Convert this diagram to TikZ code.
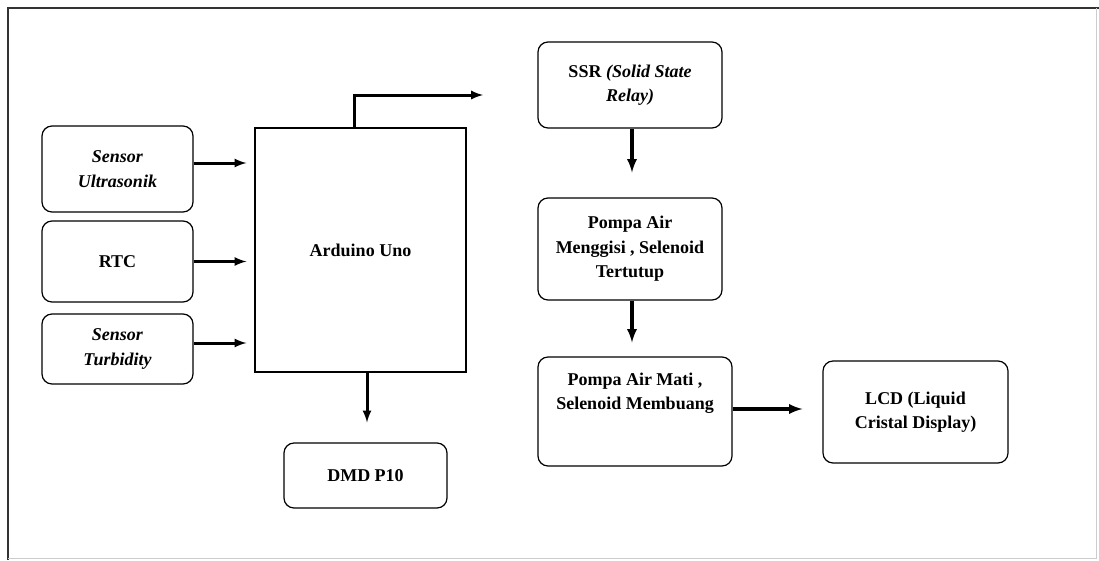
\documentclass[tikz,border=0pt]{standalone}
\usepackage{fontspec}
\setmainfont{Liberation Serif}
\usetikzlibrary{positioning,calc}
\tikzstyle{block}=[draw, line width=1.2pt, rounded corners=10pt, align=center, inner sep=0pt, font=\bfseries\fontsize{18}{24.5}\selectfont]
\tikzstyle{board}=[draw, line width=1.2pt, align=center, inner sep=0pt, font=\bfseries\fontsize{18}{24.5}\selectfont]
\tikzset{flow/.style={-latex, line width=3pt}}
\tikzset{flowthick/.style={-latex, line width=3.5pt}}

\begin{document}
\begin{tikzpicture}[x=1pt,y=-1pt]
  \useasboundingbox (0,0) rectangle (1099,560);
  %% frame
  \draw[line width=1.6pt, black!80] (8,560) -- (8,8) -- (1099,8);
  \draw[line width=0.6pt, black!20] (1096,8) -- (1096,558) -- (8,558);

  %% inputs
  \draw (117.5,169) node[block,minimum width=151pt,minimum height=86pt] (ultra) {\textit{Sensor}\\\textit{Ultrasonik}};
  \draw (117.5,261.5) node[block,minimum width=151pt,minimum height=81pt] (rtc) {RTC};
  \draw (117.5,349) node[block,minimum width=151pt,minimum height=70pt] (turb) {\textit{Sensor}\\\textit{Turbidity}};

  %% controller
  \draw (360.5,250) node[board,minimum width=211pt,minimum height=244pt] (ardu) {Arduino Uno};
  \draw (365.5,475.5) node[block,minimum width=163pt,minimum height=65pt] (dmd) {DMD P10};

  %% outputs
  \draw (630,85) node[block,minimum width=184pt,minimum height=86pt] (ssr) {SSR \textit{(Solid State}\\\textit{Relay)}};
  \draw (630,249) node[block,minimum width=184pt,minimum height=102pt] (isi) {Pompa Air\\Menggisi , Selenoid\\Tertutup};
  \draw (635,411.5) node[block,minimum width=194pt,minimum height=109pt] (buang) {Pompa Air Mati ,\\Selenoid Membuang\\[16pt]\mbox{}};
  \draw (915.5,412) node[block,minimum width=185pt,minimum height=102pt] (lcd) {LCD (Liquid\\Cristal Display)};

  \coordinate (ssrin) at (483,95);

  \draw[flow,shorten >=8pt] ([yshift=6pt]ultra.east) -- ([yshift=6pt]ultra.east -| ardu.west);
  \draw[flow,shorten >=8pt] (rtc.east) -- (rtc.east -| ardu.west);
  \draw[flow,shorten >=8pt] ([yshift=6pt]turb.east) -- ([yshift=6pt]turb.east -| ardu.west);
  \draw[flow] ([xshift=-6.5pt]ardu.north) |- (ssrin);
  \draw[flow,shorten >=20pt] ([xshift=6.5pt]ardu.south) -- ([xshift=6.5pt]ardu.south |- dmd.north);
  \draw[flowthick,shorten >=25pt] ([xshift=2pt]ssr.south) -- ([xshift=2pt]ssr.south |- isi.north);
  \draw[flowthick,shorten >=14pt] ([xshift=2pt]isi.south) -- ([xshift=2pt]isi.south |- buang.north);
  \draw[flowthick,shorten >=20pt] ([yshift=2.5pt]buang.east) -- ([yshift=2.5pt]buang.east -| lcd.west);
\end{tikzpicture}
\end{document}
